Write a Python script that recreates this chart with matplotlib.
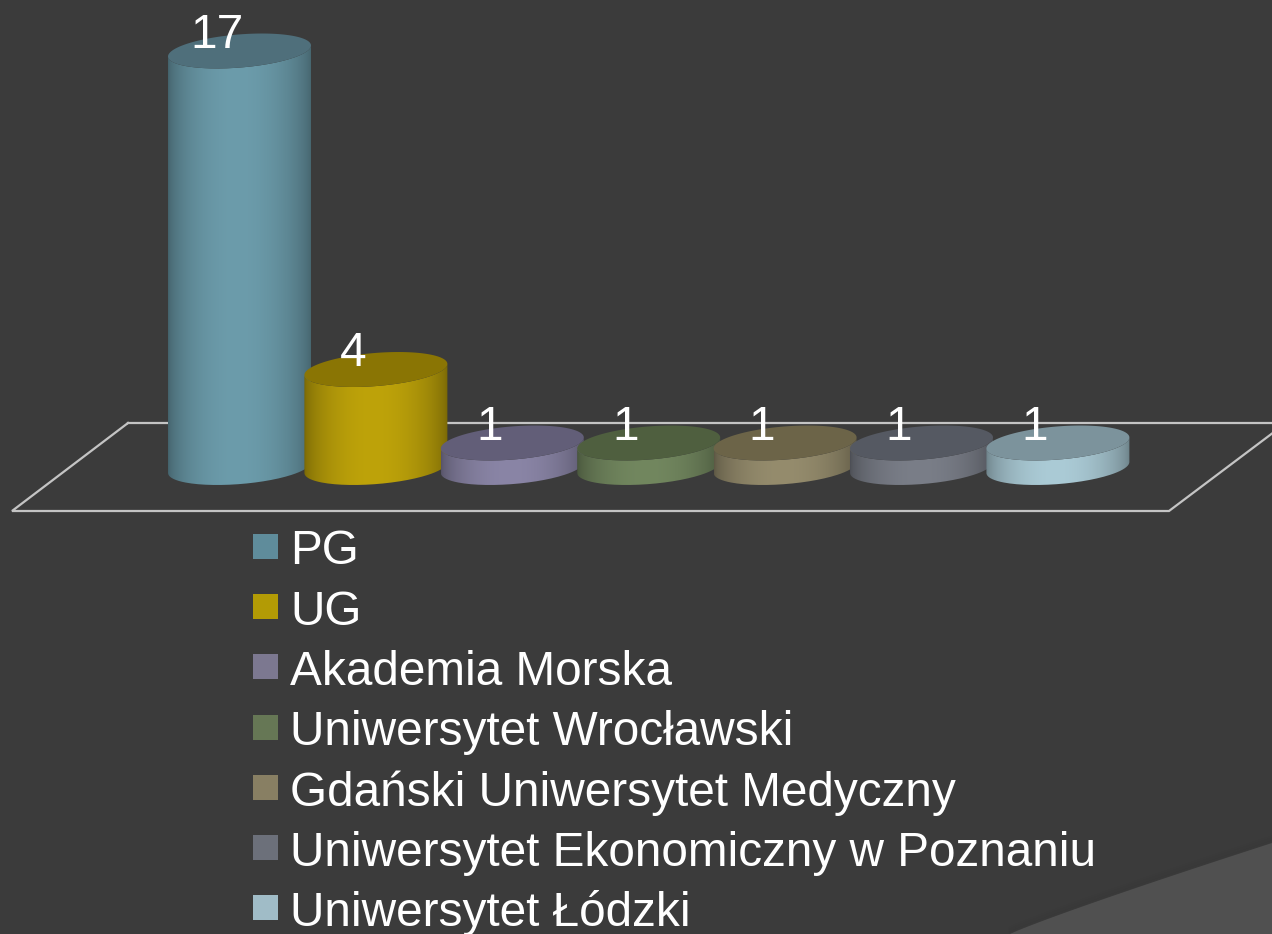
import numpy as np
import matplotlib
matplotlib.use("Agg")
import matplotlib.pyplot as plt
from matplotlib.colors import ListedColormap, to_rgb
from matplotlib.patches import PathPatch, Polygon, Rectangle
from matplotlib.path import Path

plt.rcParams["font.family"] = ["Liberation Sans", "DejaVu Sans"]

# ------------------------------------------------------------
# Data
# ------------------------------------------------------------
categories = ["PG", "UG", "Akademia Morska", "Uniwersytet Wrocławski",
              "Gdański Uniwersytet Medyczny", "Uniwersytet Ekonomiczny w Poznaniu",
              "Uniwersytet Łódzki"]
values = [17, 4, 1, 1, 1, 1, 1]
side_colors = ["#6c9cab", "#bea30a", "#8a85a6", "#72875f", "#958c6d", "#7a7e88", "#abcbd6"]
top_colors = ["#4f6f7b", "#8a7504", "#625e78", "#4f5f3f", "#6c6448", "#555962", "#7c939c"]
legend_colors = ["#5f8c9b", "#b39b05", "#7c7890", "#667755", "#887f63", "#6c707a", "#a0bcc7"]

BG = "#3b3b3b"
CORNER = "#505050"
LINE = "#c4c4c4"

W, H = 1272, 934
BAR_STEP = 136.4      # px between bars
BAR_X0 = 239.5        # px of the first bar centre
BASE_Y = 467.5        # px of value 0
PX_PER_UNIT = 24.5
HALF_W = 71.5 / BAR_STEP
ELL_B = 16.6 / PX_PER_UNIT
ELL_TILT = 5.5 / PX_PER_UNIT


def ellipse_xy(cx, cy, t):
    """Tilted ellipse of a cylinder cap, in data units."""
    return cx + HALF_W * np.cos(t), cy + ELL_B * np.sin(t) + ELL_TILT * np.cos(t)


def draw_cylinder(ax, i, val, side, top):
    # front half goes from the right end, under the base, to the left end
    t_front = np.linspace(0, -np.pi, 80)
    t_all = np.linspace(0, 2 * np.pi, 160)
    bx, by = ellipse_xy(i, 0, t_front)
    tx, ty = ellipse_xy(i, val, t_front[::-1])
    verts = np.r_[np.c_[bx, by], np.c_[tx, ty]]
    body = PathPatch(Path(np.r_[verts, verts[:1]]), fc="none", ec="none", transform=ax.transData)
    ax.add_patch(body)

    # round shading across the cylinder, brightest just right of the middle
    u = np.linspace(0, 1, 256)
    shade = 0.62 + 0.38 * np.sin(np.pi * u ** 0.95) ** 0.6
    cmap = ListedColormap(np.outer(shade, to_rgb(side)))
    im = ax.imshow(u.reshape(1, -1), cmap=cmap, aspect="auto", interpolation="bilinear",
                   extent=(i - HALF_W, i + HALF_W, -2, val + 2), zorder=2 + i)
    im.set_clip_path(body)
    body.set_zorder(2 + i)

    cx, cy = ellipse_xy(i, val, t_all)
    ax.add_patch(Polygon(np.c_[cx, cy], fc=top, ec="none", zorder=2 + i + 0.5))


def main():
    fig = plt.figure(figsize=(W / 100, H / 100), dpi=100, facecolor=BG)

    # pixel-space layer: slide corner, floor of the chart, legend
    bg = fig.add_axes([0, 0, 1, 1], zorder=0)
    bg.set_xlim(0, W)
    bg.set_ylim(H, 0)
    bg.axis("off")

    xc = np.linspace(1010, W, 40)
    s = (xc - 1010) / (W - 1010)
    yc = 934 - 91 * (s ** 0.93)
    for off, a in [(6, 0.04), (4, 0.06), (2, 0.09)]:
        bg.plot(xc, yc - off, color="#2e2e2e", lw=2, alpha=a)
    bg.add_patch(Polygon(np.r_[np.c_[xc, yc], [[W, H], [1010, H]]], fc=CORNER, ec="none"))

    floor_x = [128, 12, 1169, 1286, 128]
    floor_y = [423, 511, 511, 423, 423]
    bg.plot(floor_x, floor_y, color=LINE, lw=1.6, solid_joinstyle="miter")

    for i, (name, col) in enumerate(zip(categories, legend_colors)):
        yl = 546.5 + 60.2 * i
        bg.add_patch(Rectangle((253, yl - 12.5), 25, 25, fc=col, ec="none"))
        bg.text(290, 564.5 + 60.3 * i, name, color="white", fontsize=34.35, va="baseline", ha="left",
                clip_on=False)

    # chart layer: value scale maps through the axes limits
    ax = fig.add_axes([0, 0, 1, 1], zorder=1)
    ax.patch.set_alpha(0)
    ax.axis("off")
    for i, (val, side, top) in enumerate(zip(values, side_colors, top_colors)):
        draw_cylinder(ax, i, val, side, top)
    for i, val in enumerate(values):
        ax.annotate(str(val), (i, val), xytext=(-23 * 0.72, 3 * 0.72), textcoords="offset points",
                    color="white", fontsize=34.35, ha="center", va="baseline", zorder=30)
    ax.set_xlim(-BAR_X0 / BAR_STEP, (W - BAR_X0) / BAR_STEP)
    ax.set_ylim((BASE_Y - H) / PX_PER_UNIT, BASE_Y / PX_PER_UNIT)

    fig.savefig("out.png", dpi=100, facecolor=BG)


if __name__ == "__main__":
    main()
